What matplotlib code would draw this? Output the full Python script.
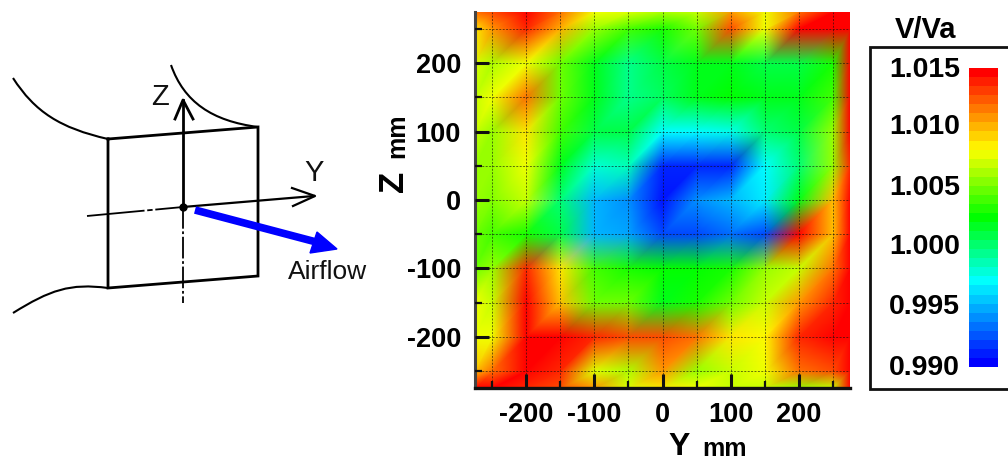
import numpy as np
import matplotlib
matplotlib.use("Agg")
import matplotlib.pyplot as plt
from matplotlib.colors import LinearSegmentedColormap
from matplotlib.tri import Triangulation
from matplotlib.patches import Rectangle, Polygon, PathPatch
from matplotlib.path import Path

plt.rcParams['font.family'] = ['Liberation Sans', 'DejaVu Sans']
plt.rcParams['axes.unicode_minus'] = False

# Measurement grid
y_mm = [-275, -250, -200, -150, -100, -50, 0, 50, 100, 150, 200, 250, 275]
z_mm = [275, 250, 200, 150, 100, 50, 0, -50, -100, -150, -200, -250, -275]
# V/Va, rows from z=+275 down to z=-275, columns y=-275..275
v_va = [
    [1.012, 1.013, 1.015, 1.012, 1.008, 1.0075, 1.0065, 1.007, 1.011, 1.008, 1.012, 1.015, 1.015],
    [1.009, 1.011, 1.014, 1.0105, 1.006, 1.004, 1.003, 1.005, 1.013, 1.008, 1.015, 1.015, 1.015],
    [1.0075, 1.0065, 1.008, 1.005, 1.002, 0.9995, 1.001, 1.002, 1.002, 1.001, 1.001, 1.003, 1.015],
    [1.007, 1.008, 1.012, 1.005, 1.002, 0.9995, 1.0005, 1.002, 1.0025, 1.002, 1.002, 1.004, 1.015],
    [1.007, 1.006, 1.009, 1.004, 1.001, 1.001, 0.997, 0.997, 0.9975, 1.0, 1.001, 1.006, 1.015],
    [1.006, 1.006, 1.008, 1.002, 0.998, 0.9985, 0.991, 0.991, 0.991, 0.997, 1.0, 1.006, 1.014],
    [1.006, 1.0055, 1.007, 1.0, 0.995, 0.994, 0.9905, 0.994, 0.995, 0.9965, 1.002, 1.01, 1.015],
    [1.005, 1.004, 1.003, 1.001, 0.995, 0.9945, 0.992, 0.992, 0.993, 0.992, 1.015, 1.01, 1.015],
    [1.005, 1.006, 1.014, 1.009, 1.004, 1.003, 1.0025, 1.0025, 1.003, 1.006, 1.007, 1.012, 1.015],
    [1.008, 1.007, 1.015, 1.01, 1.005, 1.005, 1.002, 1.003, 1.005, 1.007, 1.011, 1.014, 1.015],
    [1.008, 1.008, 1.015, 1.015, 1.014, 1.013, 1.013, 1.012, 1.009, 1.0085, 1.014, 1.015, 1.015],
    [1.01, 1.012, 1.015, 1.014, 1.0075, 1.0065, 1.011, 1.006, 1.007, 1.008, 1.012, 1.013, 1.015],
    [1.015, 1.015, 1.014, 1.013, 1.011, 1.0075, 1.009, 1.008, 1.007, 1.007, 1.006, 1.007, 1.015],
]
cbar_ticks = [1.015, 1.010, 1.005, 1.000, 0.995, 0.990]
major_ticks = [-200, -100, 0, 100, 200]
minor_ticks = [-250, -150, -50, 50, 150, 250]

W, H = 1008, 462
fig = plt.figure(figsize=(W / 100, H / 100), dpi=100, facecolor='white')


def rect(x0, y0, x1, y1):
    return [x0 / W, 1 - y1 / H, (x1 - x0) / W, (y1 - y0) / H]


stops = [(0, '#0000ff'), (0.28, '#00ffff'), (0.5, '#00ff00'), (0.735, '#ffff00'), (1, '#ff0000')]
cmap = LinearSegmentedColormap.from_list('rb', stops, N=256)
cmap_bands = LinearSegmentedColormap.from_list('rbb', stops, N=33)

# Contour panel
ax = fig.add_axes(rect(475, 12, 850, 388))
yy, zz = np.meshgrid(y_mm, z_mm)
vals = np.array(v_va)
nr, nc = vals.shape
tris = []
for r in range(nr - 1):
    for c in range(nc - 1):
        a = r * nc + c
        b = a + 1
        d = a + nc
        e = d + 1
        tris += [[d, e, b], [d, b, a]]
tr = Triangulation(yy.ravel(), zz.ravel(), tris)
ax.tripcolor(tr, vals.ravel(), shading='gouraud', cmap=cmap, vmin=0.99, vmax=1.015, rasterized=True)
ax.set_xlim(-275, 275)
ax.set_ylim(-275, 275)
ax.set_xticks(major_ticks)
ax.set_yticks(major_ticks)
ax.set_xticks(minor_ticks, minor=True)
ax.set_yticks(minor_ticks, minor=True)
ax.tick_params(which='major', direction='in', length=10, width=2.2, labelsize=19.5, color='#111111', pad=10)
ax.tick_params(which='minor', direction='in', length=5, width=1.6, color='#111111')
for lab in ax.get_xticklabels() + ax.get_yticklabels():
    lab.set_fontweight('bold')
ax.grid(True, which='both', color='#101010', linestyle=(0, (2, 1.5)), linewidth=0.7, alpha=0.6)
ax.set_axisbelow(False)
for s in ('top', 'right'):
    ax.spines[s].set_visible(False)
ax.spines['left'].set_linewidth(2.2)
ax.spines['left'].set_color('#444444')
ax.spines['bottom'].set_linewidth(2.4)
ax.spines['bottom'].set_color('#111111')

# Overlay in pixels for the schematic and legend
ov = fig.add_axes([0, 0, 1, 1], facecolor='none')
ov.set_xlim(0, W)
ov.set_ylim(H, 0)
ov.axis('off')

ov.text(679, 455, 'Y', fontsize=23, fontweight='bold', ha='center', va='baseline')
ov.text(725, 456, 'mm', fontsize=18, fontweight='bold', ha='center', va='baseline')
ov.text(410, 181, 'Z', fontsize=25, fontweight='bold', rotation=90, ha='right', va='center',
        rotation_mode='default')
ov.text(409, 136, 'mm', fontsize=18, fontweight='bold', rotation=90, ha='right', va='center',
        rotation_mode='default')

# Legend
ov.add_patch(Rectangle((870, 47), 160, 342, fc='white', ec='#111111', lw=2, clip_on=True))
ov.text(926, 30, 'V/Va', fontsize=21, fontweight='bold', ha='center', va='center')
cax = fig.add_axes(rect(969, 68, 998, 367))
grad = np.linspace(0.99, 1.015, 33).reshape(-1, 1)
cax.imshow(grad, origin='lower', aspect='auto', cmap=cmap_bands, vmin=0.99, vmax=1.015,
           extent=[0, 1, 0.99, 1.015], interpolation='nearest')
cax.set_xticks([])
cax.set_yticks([])
for s in cax.spines.values():
    s.set_visible(False)
cb_label_y = [70, 127, 188, 247, 307, 368]
for t, py in zip(cbar_ticks, cb_label_y):
    ov.text(960, py, f'{t:.3f}', fontsize=20.5, fontweight='bold', ha='right', va='center')

# Schematic
box = [(108, 139), (258, 127), (258, 276), (108, 288), (108, 139)]
ov.plot(*zip(*box), color='black', lw=2, solid_joinstyle='miter')


def curve(pts, lw=1.5):
    p = Path(pts, [Path.MOVETO] + [Path.CURVE4] * (len(pts) - 1))
    ov.add_patch(PathPatch(p, fc='none', ec='black', lw=lw))


curve([(13, 78), (35, 112), (60, 128), (108, 139)])
curve([(171, 65), (184, 102), (212, 121), (258, 127)])
curve([(13, 313), (50, 290), (70, 283), (108, 288)])

ov.plot([183, 183], [207, 100], color='black', lw=2)
ov.plot([183, 183], [207, 303], color='black', lw=1.3, linestyle=(0, (12, 1.5, 1.5, 1.5)))
ov.plot([175, 183, 193], [119, 100, 119], color='black', lw=2)
ov.plot([183, 314], [207, 196], color='black', lw=1.6)
ov.plot([87, 183], [216, 207], color='black', lw=1.3, linestyle=(0, (32, 1.5, 3, 1.5)))
ov.plot([292, 315, 293], [188, 196, 206], color='black', lw=1.6)
ov.plot([183], [207], 'o', color='black', ms=5)

ov.plot([195, 320], [210, 243], color='#0000ff', lw=5.5, solid_capstyle='butt')
ov.add_patch(Polygon([(317, 232), (337, 249), (310, 253)], closed=True, fc='#0000ff', ec='#0000ff'))

ov.text(160, 97, 'Z', fontsize=21, ha='center', va='center', color='#111111')
ov.text(314, 173, 'Y', fontsize=21, ha='center', va='center', color='#111111')
ov.text(328, 272, 'Airflow', fontsize=19, ha='center', va='center', color='#111111')

fig.savefig('out.png', dpi=100, facecolor='white')
